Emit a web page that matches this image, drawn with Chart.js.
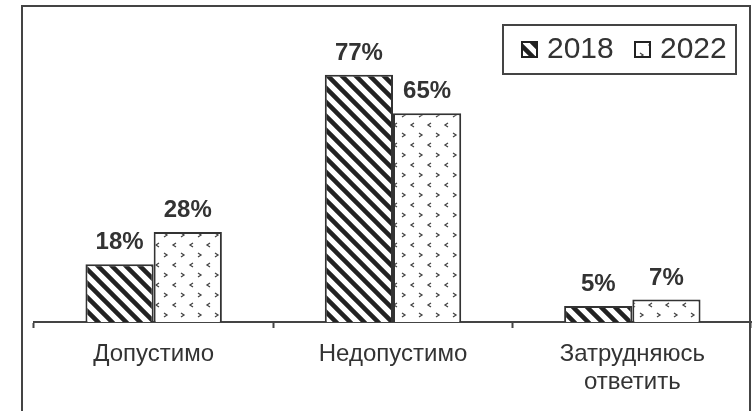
<!DOCTYPE html>
<html>
<head>
<meta charset="utf-8">
<script src="https://cdn.jsdelivr.net/npm/chart.js@4"></script>
<style>
  body { margin: 0; background: #fff; }
  #wrap { width: 752px; height: 411px; position: relative; }
</style>
</head>
<body>
<div id="wrap"><canvas id="barChart"></canvas></div>
<script>
// Данные диаграммы
const categories = ['Допустимо', 'Недопустимо', ['Затрудняюсь', 'ответить']];
const seriesNames = ['2018', '2022'];
const values2018 = [18, 77, 5];
const values2022 = [28, 65, 7];

const FONT = '"Liberation Sans", Arial, sans-serif';
const INK = '#333';

// штриховка "\\\" для 2018
function stripePattern() {
    const s = 14;
    const c = document.createElement('canvas');
    c.width = s; c.height = s;
    const g = c.getContext('2d');
    g.fillStyle = '#fff';
    g.fillRect(0, 0, s, s);
    g.strokeStyle = '#222';
    g.lineWidth = 4.5;
    g.beginPath();
    g.moveTo(-2, -2); g.lineTo(s + 2, s + 2);
    g.moveTo(-2, s - 2); g.lineTo(2, s + 2);
    g.moveTo(s - 2, -2); g.lineTo(s + 2, 2);
    g.stroke();
    return g.createPattern(c, 'repeat');
}

// мелкие уголки "< >" для 2022
function dotPattern() {
    const w = 17, h = 20;
    const c = document.createElement('canvas');
    c.width = w; c.height = h;
    const g = c.getContext('2d');
    g.fillStyle = '#fff';
    g.fillRect(0, 0, w, h);
    g.strokeStyle = '#444';
    g.lineWidth = 1.3;
    g.beginPath();
    g.moveTo(6, 3); g.lineTo(3, 5); g.lineTo(6, 7);
    g.moveTo(11, 13); g.lineTo(14, 15); g.lineTo(11, 17);
    g.stroke();
    return g.createPattern(c, 'repeat');
}

const fills = [stripePattern(), dotPattern()];

// рамка вокруг всей диаграммы
const framePlugin = {
    id: 'frame',
    beforeDraw(chart) {
        const ctx = chart.ctx;
        ctx.save();
        ctx.strokeStyle = '#444';
        ctx.lineWidth = 2;
        ctx.strokeRect(22, 6, 728, 500);
        ctx.restore();
    }
};

// подписи значений над столбцами
const valueLabels = {
    id: 'valueLabels',
    afterDatasetsDraw(chart) {
        const ctx = chart.ctx;
        ctx.save();
        ctx.font = 'bold 24px ' + FONT;
        ctx.fillStyle = INK;
        ctx.textAlign = 'center';
        ctx.textBaseline = 'alphabetic';
        chart.data.datasets.forEach((ds, i) => {
            chart.getDatasetMeta(i).data.forEach((bar, j) => {
                ctx.fillText(ds.data[j] + '%', bar.x, bar.y - 15);
            });
        });
        ctx.restore();
    }
};

// легенда в правом верхнем углу
const boxLegend = {
    id: 'boxLegend',
    afterDraw(chart) {
        const ctx = chart.ctx;
        ctx.save();
        ctx.fillStyle = '#fff';
        ctx.fillRect(503, 25, 233, 49);
        ctx.strokeStyle = '#444';
        ctx.lineWidth = 2;
        ctx.strokeRect(503, 25, 233, 49);
        const icons = [522, 635];
        ctx.font = '30px ' + FONT;
        ctx.textBaseline = 'middle';
        chart.data.datasets.forEach((ds, i) => {
            const x = icons[i];
            ctx.fillStyle = ds.backgroundColor;
            ctx.fillRect(x, 42, 15, 15);
            ctx.lineWidth = 2;
            ctx.strokeStyle = '#222';
            ctx.strokeRect(x, 42, 15, 15);
            ctx.fillStyle = INK;
            ctx.fillText(ds.label, x + 25, 50);
        });
        ctx.restore();
    }
};

const ctx = document.getElementById('barChart').getContext('2d');
const chart = new Chart(ctx, {
    type: 'bar',
    data: {
        labels: categories,
        datasets: [
            { label: seriesNames[0], data: values2018, backgroundColor: fills[0] },
            { label: seriesNames[1], data: values2022, backgroundColor: fills[1] }
        ]
    },
    options: {
        responsive: true,
        maintainAspectRatio: false,
        devicePixelRatio: 1,
        animation: false,
        layout: { padding: { top: 1, left: 34, right: -2, bottom: 0 } },
        datasets: {
            bar: {
                categoryPercentage: 0.57,
                barPercentage: 1,
                borderColor: '#333',
                borderWidth: 2,
                borderSkipped: 'bottom'
            }
        },
        plugins: {
            legend: { display: false },
            tooltip: { enabled: false }
        },
        scales: {
            y: {
                display: false,
                min: 0,
                max: 100
            },
            x: {
                afterFit(scale) { scale.height = 89; },
                border: { display: true, color: '#444', width: 2 },
                grid: {
                    offset: true,
                    drawOnChartArea: false,
                    drawTicks: true,
                    tickLength: 6,
                    tickWidth: 2,
                    tickColor: '#444'
                },
                ticks: {
                    color: INK,
                    font: { family: FONT, size: 24, lineHeight: 1.15 },
                    padding: 13,
                    maxRotation: 0,
                    autoSkip: false
                }
            }
        }
    },
    plugins: [framePlugin, valueLabels, boxLegend]
});
</script>
</body>
</html>
